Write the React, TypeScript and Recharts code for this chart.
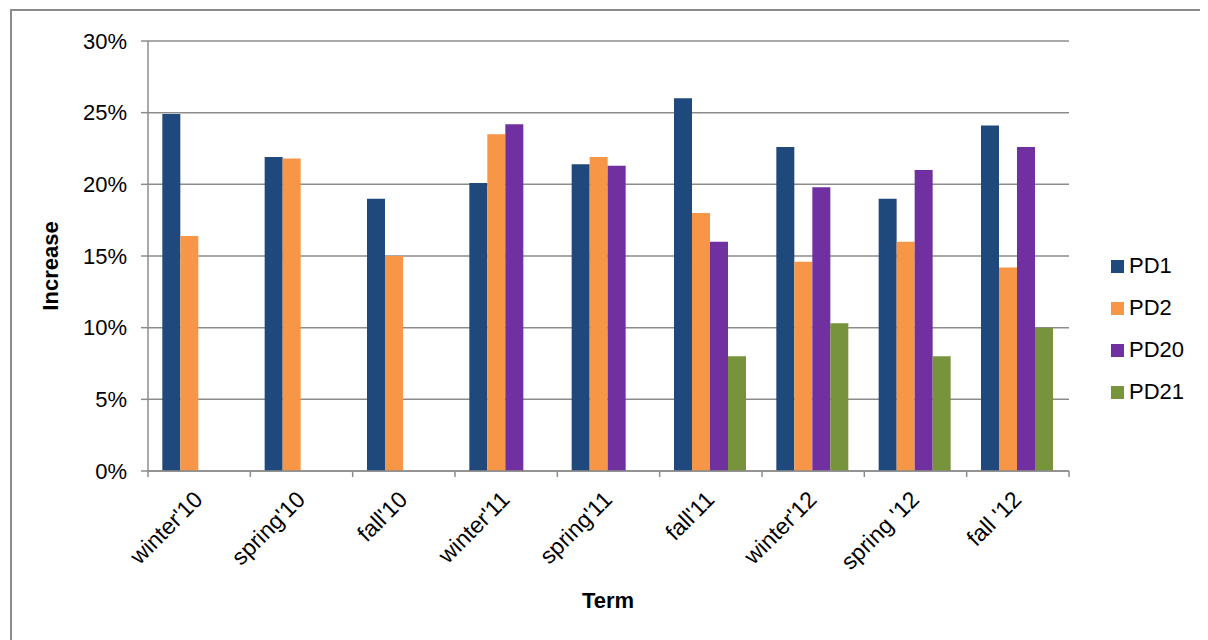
import React from 'react';
import { BarChart, Bar, XAxis, YAxis, CartesianGrid, Legend } from 'recharts';

const terms = ["winter'10", "spring'10", "fall'10", "winter'11", "spring'11", "fall'11", "winter'12", "spring '12", "fall '12"];
const pd1 = [24.9, 21.9, 19.0, 20.1, 21.4, 26.0, 22.6, 19.0, 24.1];
const pd2 = [16.4, 21.8, 15.0, 23.5, 21.9, 18.0, 14.6, 16.0, 14.2];
const pd20 = [null, null, null, 24.2, 21.3, 16.0, 19.8, 21.0, 22.6];
const pd21 = [null, null, null, null, null, 8.0, 10.3, 8.0, 10.0];
const yTicks = [0, 5, 10, 15, 20, 25, 30];

const series = [
  { key: 'PD1', color: '#1F497D' },
  { key: 'PD2', color: '#F79646' },
  { key: 'PD20', color: '#7030A0' },
  { key: 'PD21', color: '#77933C' },
];

const data = terms.map((t, i) => ({ term: t, PD1: pd1[i], PD2: pd2[i], PD20: pd20[i], PD21: pd21[i] }));

const FONT = '"Liberation Sans", Arial, sans-serif';
const GRID = '#8c8c8c';

const TermTick = (props: any) => {
  const { x, y, payload, index } = props;
  const off = payload?.offset ?? 0;
  const tx = x + 5;
  const ty = y + 22;
  return (
    <g>
      <line x1={x - off} y1={y - 8} x2={x - off} y2={y - 2} stroke={GRID} strokeWidth={1.5} />
      {index === terms.length - 1 && (
        <line x1={x + off} y1={y - 8} x2={x + off} y2={y - 2} stroke={GRID} strokeWidth={1.5} />
      )}
      <text
        x={tx}
        y={ty}
        transform={`rotate(-45, ${tx}, ${ty})`}
        textAnchor="end"
        fontSize={23}
        fontFamily={FONT}
        fill="#000"
      >
        {payload.value}
      </text>
    </g>
  );
};

const LegendBox = () => (
  <div style={{ fontFamily: FONT, fontSize: 22, color: '#000' }}>
    {series.map((s) => (
      <div key={s.key} style={{ height: 42, display: 'flex', alignItems: 'center' }}>
        <span style={{ width: 13, height: 13, background: s.color, marginRight: 5 }} />
        <span>{s.key}</span>
      </div>
    ))}
  </div>
);

export default function App() {
  return (
    <div style={{ width: 1200, height: 632, position: 'relative', overflow: 'hidden', background: '#fff' }}>
      <div
        style={{
          position: 'absolute',
          left: 2,
          top: 1,
          width: 1400,
          height: 800,
          border: '2px solid #8c8c8c',
        }}
      />
      <BarChart
        width={1200}
        height={632}
        data={data}
        margin={{ top: 33, right: 139, left: 0, bottom: 0 }}
        barCategoryGap="14%"
        barGap={0}
        style={{ position: 'absolute', left: 0, top: 0 }}
      >
        <CartesianGrid vertical={false} stroke={GRID} strokeWidth={1.5} />
        <XAxis
          dataKey="term"
          height={169}
          axisLine={{ stroke: GRID, strokeWidth: 1.5 }}
          tickLine={false}
          interval={0}
          tick={<TermTick />}
        />
        <YAxis
          width={140}
          domain={[0, 30]}
          ticks={yTicks}
          tickFormatter={(v: number) => `${v}%`}
          axisLine={{ stroke: GRID, strokeWidth: 1.5 }}
          tickLine={{ stroke: GRID, strokeWidth: 1.5 }}
          tickSize={7}
          tickMargin={14}
          tick={{ fontSize: 22, fontFamily: FONT, fill: '#000' }}
        />
        <Legend
          layout="vertical"
          align="center"
          verticalAlign="middle"
          content={<LegendBox />}
          wrapperStyle={{ left: 1103, top: 237, right: 'auto', bottom: 'auto', width: 100 }}
        />
        {series.map((s) => (
          <Bar key={s.key} dataKey={s.key} fill={s.color} isAnimationActive={false} />
        ))}
      </BarChart>
      <div
        style={{
          position: 'absolute',
          left: 43,
          top: 258,
          transform: 'translate(-50%, -50%) rotate(-90deg)',
          fontFamily: FONT,
          fontSize: 22,
          fontWeight: 'bold',
          whiteSpace: 'nowrap',
        }}
      >
        Increase
      </div>
      <div
        style={{
          position: 'absolute',
          left: 600,
          top: 593,
          transform: 'translate(-50%, -50%)',
          fontFamily: FONT,
          fontSize: 22,
          fontWeight: 'bold',
        }}
      >
        Term
      </div>
    </div>
  );
}
